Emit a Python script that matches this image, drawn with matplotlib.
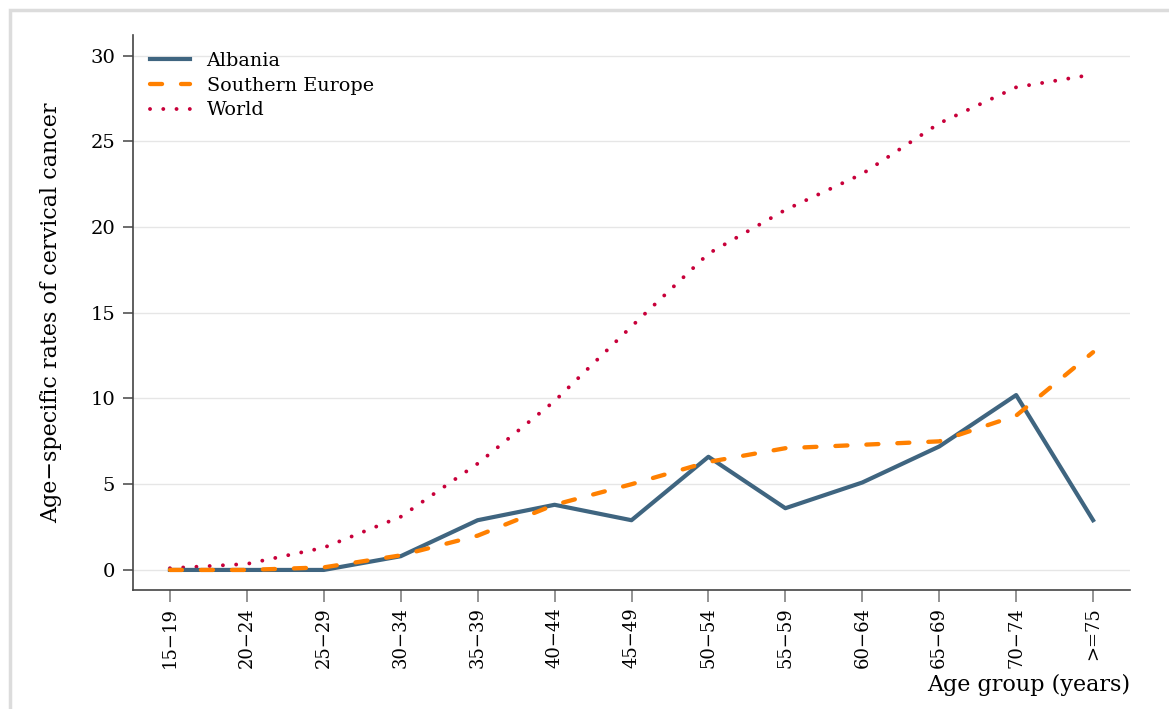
import numpy as np
import matplotlib.pyplot as plt
from matplotlib.patches import Rectangle

ages = ['15−19', '20−24', '25−29', '30−34', '35−39', '40−44', '45−49',
        '50−54', '55−59', '60−64', '65−69', '70−74', '>=75']
albania = [0, 0, 0, 0.8, 2.9, 3.8, 2.9, 6.6, 3.6, 5.1, 7.2, 10.2, 2.9]
south_eu = [0, 0, 0.15, 0.85, 2.0, 3.8, 5.0, 6.3, 7.1, 7.3, 7.5, 9.0, 12.7]
world = [0.1, 0.35, 1.3, 3.1, 6.2, 9.85, 14.2, 18.45, 21.0, 23.1, 26.05, 28.15, 28.9]
yticks = [0, 5, 10, 15, 20, 25, 30]

plt.rcParams['font.family'] = ['DejaVu Serif']

fig = plt.figure(figsize=(11.69, 7.09), dpi=100)
# light frame around the graph region
fig.patches.append(Rectangle((10 / 1169, -0.1), 1.2, 1 - 10 / 709 + 0.1,
                             transform=fig.transFigure, fill=False,
                             edgecolor='#dcdcdc', lw=2.5, zorder=0))

ax = fig.add_axes([133 / 1169, 1 - 590 / 709, (1130 - 133) / 1169, (590 - 35) / 709])
x = np.arange(len(ages))

ax.plot(x, albania, color='#3f6580', lw=3, label='Albania', zorder=3)
ax.plot(x, south_eu, color='#ff8000', lw=3.1, ls=(0, (2.8, 4.4)), dash_capstyle='round',
        label='Southern Europe', zorder=4)
ax.plot(x, world, color='#c8003a', lw=2.8, ls=(0, (0.01, 3.4)), dash_capstyle='round',
        label='World', zorder=2)

ax.set_xlim(-0.48, 12.48)
ax.set_ylim(-1.17, 31.2)
ax.set_xticks(x)
ax.set_xticklabels(ages, rotation=90, fontsize=13)
ax.set_yticks(yticks)
ax.set_yticklabels([str(v) for v in yticks], fontsize=14)
ax.grid(axis='y', color='#e6e6e6', lw=1)
ax.set_axisbelow(True)

for s in ['top', 'right']:
    ax.spines[s].set_visible(False)
for s in ['left', 'bottom']:
    ax.spines[s].set_color('#444444')
    ax.spines[s].set_linewidth(1.2)
ax.tick_params(axis='y', length=7, width=1.1, color='#444444', pad=6)
ax.tick_params(axis='x', length=8.5, width=1.1, color='#777777', pad=4)

ax.set_ylabel('Age−specific rates of cervical cancer', fontsize=16, labelpad=20)
ax.set_xlabel('Age group (years)', fontsize=16, loc='right', labelpad=4)

ax.legend(loc='upper left', frameon=False, fontsize=13.8, handlelength=2.1,
          handletextpad=0.85, borderpad=0, borderaxespad=0, labelspacing=0.36,
          bbox_to_anchor=(17 / 997, 0.97))

fig.savefig('out.png', dpi=100)
